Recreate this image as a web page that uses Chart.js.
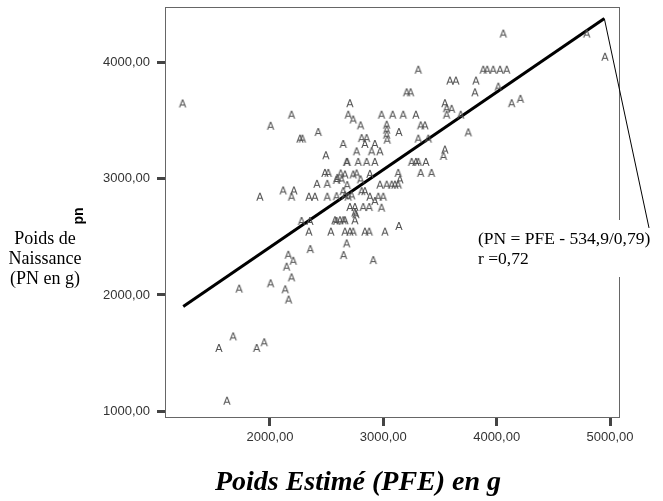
<!DOCTYPE html>
<html>
<head>
<meta charset="utf-8">
<script src="https://cdn.jsdelivr.net/npm/chart.js@4.4.1/dist/chart.umd.min.js"></script>
<style>
  html, body { margin: 0; padding: 0; background: #fff; }
</style>
</head>
<body>
<canvas id="chart" width="663" height="501"></canvas>
<script>
// poids estime (x) et poids de naissance (y)
const pfe = [1230, 1550, 1621, 1676, 1729, 1883, 1950, 1912, 2006, 2006,
  2117, 2135, 2147, 2162, 2165, 2191, 2191, 2191, 2206, 2212,
  2265, 2287, 2279, 2353, 2344, 2344, 2356, 2397, 2415, 2426,
  2485, 2494, 2506, 2506, 2515, 2538, 2574, 2588, 2594, 2588,
  2618, 2624, 2632, 2647, 2647, 2647, 2650, 2662, 2662, 2662,
  2662, 2677, 2682, 2677, 2682, 2691, 2691, 2706, 2706, 2706,
  2721, 2735, 2735, 2735, 2750, 2750, 2759, 2750, 2765, 2765,
  2779, 2800, 2800, 2809, 2809, 2823, 2838, 2838, 2838, 2853,
  2853, 2876, 2876, 2882, 2882, 2897, 2912, 2926, 2926, 2926,
  2956, 2971, 2971, 2985, 2985, 3000, 3015, 3030, 3030, 3030,
  3035, 3030, 3074, 3083, 3103, 3132, 3138, 3138, 3147, 3132,
  3176, 3206, 3241, 3250, 3288, 3288, 3309, 3309, 3309, 3330,
  3330, 3368, 3376, 3397, 3426, 3531, 3544, 3544, 3559, 3603,
  3559, 3588, 3641, 3683, 3750, 3809, 3818, 3882, 3917, 3970,
  4015, 4030, 4059, 4089, 4133, 4210, 4795, 4956, 2588]
const pn = [3649, 1543, 1089, 1643, 2054, 1543, 1592, 2846, 3457, 2100,
  2900, 2048, 2243, 2346, 1960, 2151, 3552, 2846, 2294, 2900,
  3346, 3346, 2637, 2637, 2846, 2545, 2395, 2846, 2957, 3403,
  3051, 3203, 2957, 2846, 3051, 2545, 2643, 2850, 3008, 2990,
  2643, 3046, 2995, 3300, 2894, 2643, 2343, 2643, 3037, 2545,
  2857, 3146, 3146, 2444, 2946, 3552, 2846, 3651, 2757, 2545,
  2857, 3511, 3037, 2545, 2757, 2709, 2695, 2643, 3237, 3046,
  3146, 3460, 2995, 3351, 2894, 2757, 3300, 2894, 2545, 3351,
  3146, 2757, 2545, 3043, 2846, 3237, 2300, 3300, 3146, 2809,
  2846, 3237, 2950, 3552, 2751, 2846, 2545, 3466, 3423, 3380,
  3337, 2950, 2950, 3552, 2950, 3051, 3403, 2594, 2995, 2950,
  3552, 3745, 3745, 3146, 3552, 3146, 3346, 3146, 3940, 3460,
  3051, 3460, 3146, 3346, 3051, 3197, 3252, 3651, 3608, 3603,
  3552, 3846, 3846, 3552, 3400, 3745, 3846, 3940, 3940, 3940,
  3794, 3940, 4251, 3940, 3651, 3689, 4251, 4051, 2637]

// droite d'ajustement et trait de renvoi vers la note
const regX = [1235, 4950]
const regY = [1900, 4380]
const calloutX = [4950, 5344]
const calloutY = [4380, 2577]

const xTicks = [2000, 3000, 4000, 5000]
const yTicks = [1000, 2000, 3000, 4000]

const xTitle = 'Poids Estimé (PFE) en g'
const yTitle = 'pn'
const yNote = ['Poids de', 'Naissance', '(PN en g)']
const fitNote = ['(PN = PFE - 534,9/0,79)', 'r =0,72']

const fmt = v => v.toFixed(2).replace('.', ',')
const toPoints = (xs, ys) => xs.map((x, i) => ({ x: x, y: ys[i] }))

// le symbole "A" utilise comme marqueur
const marker = document.createElement('canvas')
marker.width = 12
marker.height = 12
const mctx = marker.getContext('2d')
mctx.font = '11px "Liberation Sans", Arial, sans-serif'
mctx.fillStyle = '#505050'
mctx.textAlign = 'center'
mctx.textBaseline = 'alphabetic'
mctx.fillText('A', 6, 10)

const decor = {
  id: 'decor',
  beforeDatasetsDraw(chart) {
    const { ctx, chartArea: a } = chart
    ctx.save()
    ctx.strokeStyle = '#666'
    ctx.lineWidth = 1
    ctx.strokeRect(a.left + 0.5, a.top + 0.5, a.right - a.left - 1, a.bottom - a.top - 1)
    ctx.fillStyle = '#fff'
    ctx.fillRect(474, 220, 189, 57)
    ctx.restore()
  },
  afterDraw(chart) {
    const ctx = chart.ctx
    ctx.save()
    ctx.fillStyle = '#000'

    ctx.font = 'italic bold 28px "Liberation Serif", "Times New Roman", serif'
    ctx.textAlign = 'center'
    ctx.textBaseline = 'alphabetic'
    ctx.fillText(xTitle, 358, 490)

    ctx.font = '18px "Liberation Serif", "Times New Roman", serif'
    yNote.forEach((t, i) => ctx.fillText(t, 45, 244 + i * 20))

    ctx.font = '17.5px "Liberation Serif", "Times New Roman", serif'
    ctx.textAlign = 'left'
    fitNote.forEach((t, i) => ctx.fillText(t, 478, 244 + i * 20))

    ctx.translate(79, 216)
    ctx.rotate(-Math.PI / 2)
    ctx.font = 'bold 14px "Liberation Sans", Arial, sans-serif'
    ctx.textAlign = 'center'
    ctx.textBaseline = 'middle'
    ctx.fillText(yTitle, 0, 0)
    ctx.restore()
  }
}

const tickFont = { family: '"Liberation Sans", Arial, sans-serif', size: 13 }

new Chart(document.getElementById('chart'), {
  type: 'scatter',
  data: {
    datasets: [{
      data: toPoints(pfe, pn),
      pointStyle: marker,
      pointRadius: 6,
      pointHoverRadius: 6
    }, {
      data: toPoints(regX, regY),
      showLine: true,
      borderColor: '#000',
      borderWidth: 3,
      pointRadius: 0
    }, {
      data: toPoints(calloutX, calloutY),
      showLine: true,
      borderColor: '#000',
      borderWidth: 1,
      pointRadius: 0,
      clip: false
    }]
  },
  options: {
    responsive: false,
    animation: false,
    layout: { padding: { top: 5, right: 43, left: 0, bottom: 0 } },
    plugins: {
      legend: { display: false },
      tooltip: { enabled: false }
    },
    scales: {
      x: {
        type: 'linear',
        min: 1074,
        max: 5088,
        afterBuildTicks: s => { s.ticks = xTicks.map(v => ({ value: v })) },
        afterFit: s => { s.height = 83; s.paddingLeft = 0; s.paddingRight = 0 },
        ticks: { callback: v => fmt(v), font: tickFont, color: '#333', padding: 4, maxRotation: 0 },
        grid: { drawOnChartArea: false, drawTicks: true, tickLength: 8, tickWidth: 3, tickColor: '#444' },
        border: { display: false }
      },
      y: {
        type: 'linear',
        min: 940,
        max: 4480,
        afterBuildTicks: s => { s.ticks = yTicks.map(v => ({ value: v })) },
        afterFit: s => { s.width = 165; s.paddingTop = 0; s.paddingBottom = 0 },
        ticks: { callback: v => fmt(v), font: tickFont, color: '#333', padding: 7 },
        grid: { drawOnChartArea: false, drawTicks: true, tickLength: 8, tickWidth: 3, tickColor: '#444' },
        border: { display: false }
      }
    }
  },
  plugins: [decor]
})
</script>
</body>
</html>
